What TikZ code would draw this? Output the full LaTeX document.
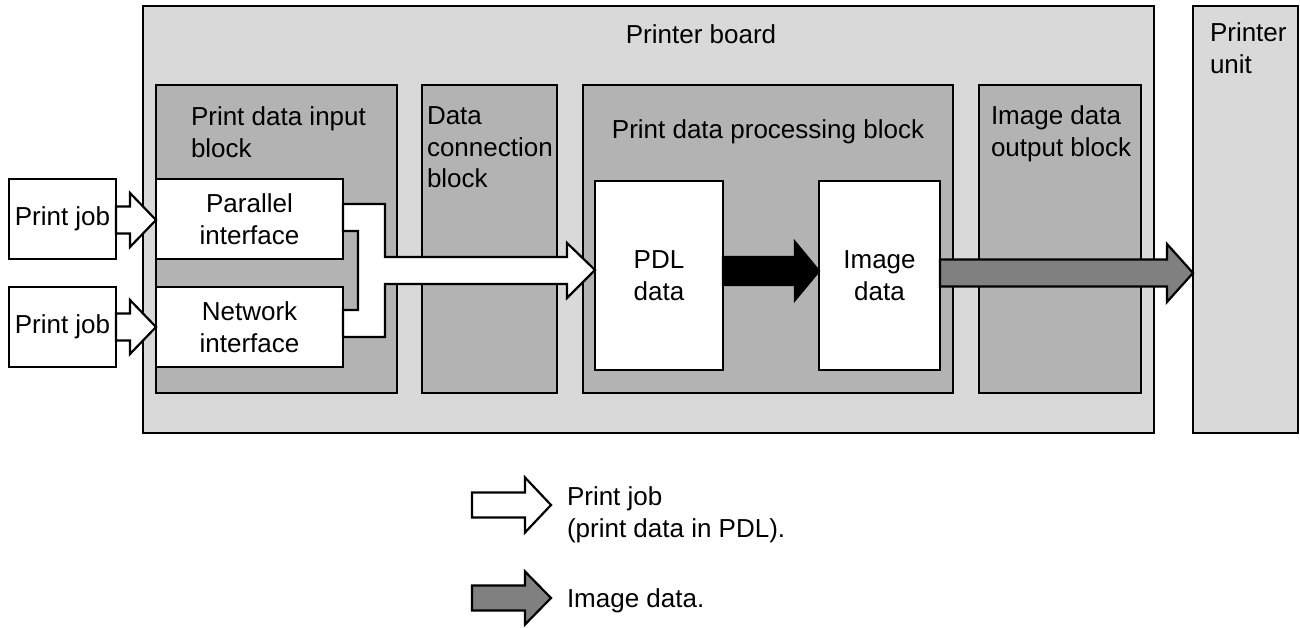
\documentclass[tikz,border=0pt]{standalone}
\usepackage{fontspec}
\setmainfont{Liberation Sans}
\usetikzlibrary{calc}
\definecolor{boardfill}{HTML}{D9D9D9}
\definecolor{blockfill}{HTML}{B3B3B3}
\definecolor{imagefill}{HTML}{808080}
% horizontal block arrow: fill, start, tip, centre y, shaft half-height, head half-height, head length
\newcommand\blockarrow[7]{%
  \draw[fill=#1] ($(#2 |- 0,#4)+(0,-#5)$) -- ($(#3 |- 0,#4)+(-#7,-#5)$)
    -- ++(0,#5-#6) -- (#3 |- 0,#4) -- ++(-#7,#6) -- ++(0,#5-#6)
    -- ($(#2 |- 0,#4)+(0,#5)$) -- cycle;}
\begin{document}
\begin{tikzpicture}[x=1pt,y=-1pt,line width=2.2pt,line join=miter,
  every node/.style={font=\fontsize{26}{31.5}\selectfont},
  frame/.style={draw,rectangle,inner sep=0pt,outer sep=0pt,anchor=north west,align=center},
  caption/.style={inner sep=0pt,outer sep=0pt,align=left}]
\useasboundingbox (0,0) rectangle (1300,628);

% board and printer unit
\node[frame,fill=boardfill,minimum width=1011pt,minimum height=427pt] (board) at (143,6) {};
\node[frame,fill=boardfill,minimum width=105pt,minimum height=427pt] (unit) at (1193,6) {};
\node[caption,anchor=north] (boardlbl) at (701,25) {Printer board};
\node[caption,anchor=north west] (unitlbl) at (1210,23) {Printer\\unit};

% functional blocks
\node[frame,fill=blockfill,minimum width=241pt,minimum height=308pt] (inblk) at (156,85) {};
\node[frame,fill=blockfill,minimum width=135pt,minimum height=308pt] (dcblk) at (422,85) {};
\node[frame,fill=blockfill,minimum width=370pt,minimum height=308pt] (procblk) at (583,85) {};
\node[frame,fill=blockfill,minimum width=162pt,minimum height=308pt] (outblk) at (979,85) {};
\node[caption,anchor=north west] (inlbl) at (191,107) {Print data input\\block};
\node[caption,anchor=north west] (dclbl) at (427,107) {Data\\connection\\block};
\node[caption,anchor=north] (proclbl) at (768,120) {Print data processing block};
\node[caption,anchor=north west] (outlbl) at (991,106) {Image data\\output block};

% inner boxes
\node[frame,fill=white,minimum width=107pt,minimum height=80pt] (pj1) at (9,179) {Print job};
\node[frame,fill=white,minimum width=107pt,minimum height=80pt] (pj2) at (9,287) {Print job};
\node[frame,fill=white,minimum width=187pt,minimum height=80pt] (par) at (156,179) {Parallel\\interface};
\node[frame,fill=white,minimum width=187pt,minimum height=80pt] (net) at (156,287) {Network\\interface};
\node[frame,fill=white,minimum width=128pt,minimum height=189pt] (pdl) at (595,181) {PDL\\data};
\node[frame,fill=white,minimum width=121pt,minimum height=189pt] (img) at (819,181) {Image\\data};

% print job arrows into the interfaces
\blockarrow{white}{pj1.east}{par.west}{220}{13.5}{27}{26}
\blockarrow{white}{pj2.east}{net.west}{327}{13.5}{27}{26}

% merged print job arrow from both interfaces to the PDL data
\draw[fill=white] (par.east |- 0,204) -- (385,204) -- (385,257) -- (567,257) -- (567,243)
  -- (pdl.west |- 0,270) -- (567,298) -- (567,284) -- (385,284) -- (385,337)
  -- (net.east |- 0,337) -- (net.east |- 0,310) -- (358,310) -- (358,231)
  -- (par.east |- 0,231) -- cycle;

% PDL data to image data, image data to printer unit
\blockarrow{black}{pdl.east}{img.west}{271}{14}{29}{24}
\blockarrow{imagefill}{img.east}{unit.west}{273}{13.5}{29}{26}

% legend
\coordinate (lg1s) at (472,505);
\coordinate (lg1t) at (551,505);
\coordinate (lg2s) at (472,598);
\coordinate (lg2t) at (551,598);
\blockarrow{white}{lg1s}{lg1t}{505}{12.5}{27.5}{26}
\blockarrow{imagefill}{lg2s}{lg2t}{598}{12.5}{26.5}{26}
\node[caption,anchor=north west] (lg1lbl) at (567,487) {Print job\\(print data in PDL).};
\node[caption,anchor=north west] (lg2lbl) at (567,589) {Image data.};
\end{tikzpicture}
\end{document}
